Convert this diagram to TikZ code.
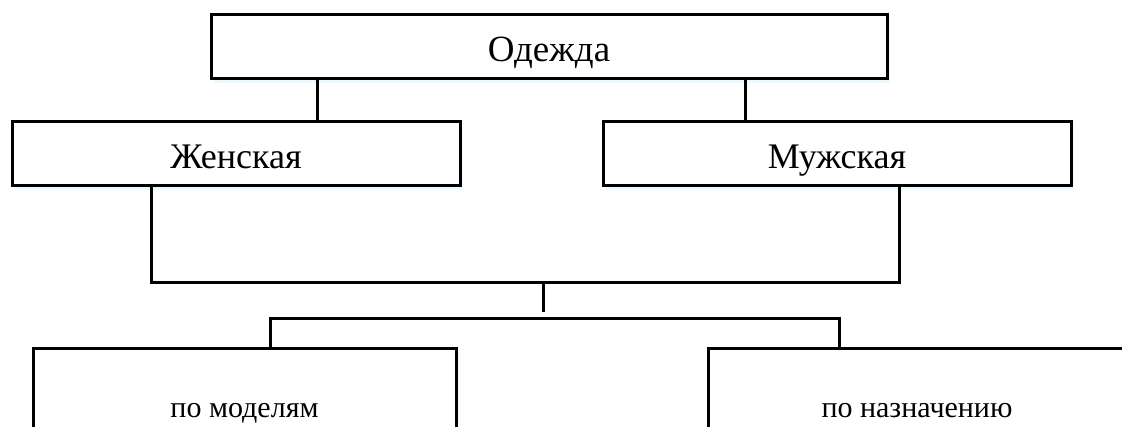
\documentclass[tikz,border=0pt]{standalone}
\usepackage{fontspec}
\setmainfont{Liberation Serif}
\usepackage{tikz}
\usetikzlibrary{shadows, positioning, calc}
\tikzstyle{box} = [draw, line width=3pt, fill=white, inner sep=0pt, text depth=0pt, drop shadow={shadow xshift=3pt, shadow yshift=-4pt, fill=blue!30!cyan!12, opacity=0.6}]
\tikzstyle{bigbox} = [box, minimum height=64pt, text height=29pt, font=\fontsize{36}{40}\selectfont]
\tikzstyle{smallbox} = [box, minimum height=118pt, text height=20pt, font=\fontsize{30}{34}\selectfont]
\tikzstyle{link} = [line width=3pt]

\begin{document}
\begin{tikzpicture}[x=1pt, y=-1pt]
            \useasboundingbox (0,0) rectangle (1122,427);
            \clip (0,0) rectangle (1122,427);

            \node [bigbox, minimum width=676pt, font=\fontsize{37}{40}\selectfont] at (549,47) (odezhda) {Одежда};
            \node [bigbox, minimum width=448pt] at (236,154) (zhen) {Женская};
            \node [bigbox, minimum width=468pt] at (837,154) (muzh) {Мужская};
            \node [smallbox, minimum width=423pt] at (244.5,408) (models) {по моделям};
            \node [smallbox, minimum width=418pt] at (917,408) (purpose) {по назначению};

            \coordinate (zhenTop) at (317,0);
            \coordinate (muzhTop) at (745,0);
            \coordinate (busL) at (151,283);
            \coordinate (busR) at (899,283);
            \coordinate (stub) at (543,312);
            \coordinate (lowL) at (270,319);
            \coordinate (lowR) at (839,319);

            \draw [link] (odezhda.south -| zhenTop) -- (zhen.north -| zhenTop);
            \draw [link] (odezhda.south -| muzhTop) -- (muzh.north -| muzhTop);
            \draw [link] (zhen.south -| busL) -- (busL) -- (busR) -- (muzh.south -| busR);
            \draw [link] (busL -| stub) -- (stub);
            \draw [link] (models.north -| lowL) -- (lowL) -- (lowR) -- (purpose.north -| lowR);
          \end{tikzpicture}
\end{document}
